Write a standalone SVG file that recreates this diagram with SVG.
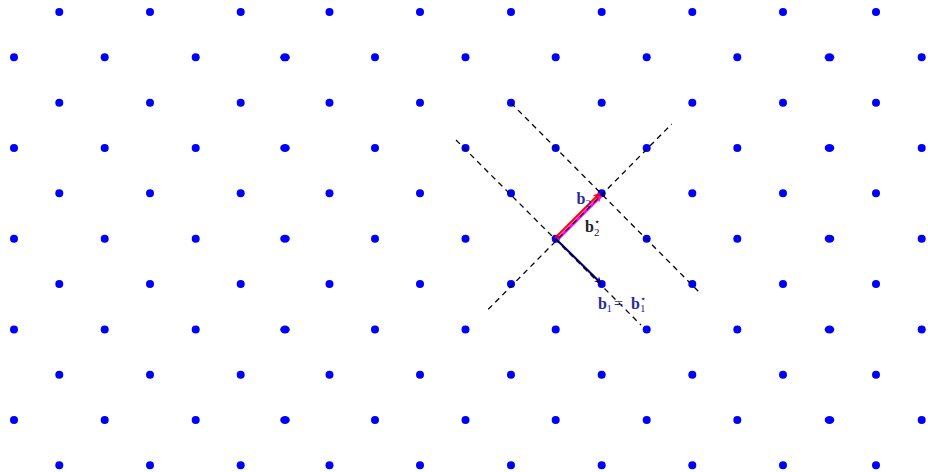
<svg xmlns="http://www.w3.org/2000/svg" width="928" height="472" viewBox="0 0 928 472">
<style>
.d{fill:#0000ff}
.dash{stroke:#000;stroke-width:1.3;stroke-dasharray:5.5 4.5;fill:none}
.lb{font-family:"Liberation Serif","Times New Roman",serif;font-weight:bold;font-size:16px}
.sub{font-family:"Liberation Serif","Times New Roman",serif;font-size:11px}
.st{font-family:"DejaVu Sans",sans-serif;font-size:10px}
.blue{fill:#2b2b9c}
.blk{fill:#222}
</style>
<defs>
<circle id="p" r="4" class="d"/>
<ellipse id="q" rx="4.8" ry="4" class="d"/>
<marker id="ar" viewBox="0 0 10 10" refX="9" refY="5" markerWidth="7" markerHeight="7" markerUnits="userSpaceOnUse" orient="auto"><path d="M0,0 L10,5 L0,10 L3,5 Z" fill="#ff0000"/></marker>
<marker id="am" viewBox="0 0 10 10" refX="9" refY="5" markerWidth="7" markerHeight="7" markerUnits="userSpaceOnUse" orient="auto"><path d="M0,0 L10,5 L0,10 L3,5 Z" fill="#ff00ff"/></marker>
<marker id="an" viewBox="0 0 10 10" refX="9" refY="5" markerWidth="7" markerHeight="7" markerUnits="userSpaceOnUse" orient="auto"><path d="M0,0 L10,5 L0,10 L3,5 Z" fill="#000080"/></marker>
</defs>
<g id="lattice">
<g id="rowA">
<use href="#p" x="59.3" y="12"/><use href="#p" x="150" y="12"/><use href="#p" x="240.7" y="12"/><use href="#p" x="329.5" y="12"/><use href="#p" x="420" y="12"/><use href="#p" x="511" y="12"/><use href="#p" x="601.7" y="12"/><use href="#p" x="692.3" y="12"/><use href="#p" x="783" y="12"/><use href="#p" x="876" y="12"/>
<use href="#p" x="59.3" y="102.7"/><use href="#p" x="150" y="102.7"/><use href="#p" x="240.7" y="102.7"/><use href="#p" x="329.5" y="102.7"/><use href="#p" x="420" y="102.7"/><use href="#p" x="511" y="102.7"/><use href="#p" x="601.7" y="102.7"/><use href="#p" x="692.3" y="102.7"/><use href="#p" x="783" y="102.7"/><use href="#p" x="876" y="102.7"/>
<use href="#p" x="59.3" y="193.3"/><use href="#p" x="150" y="193.3"/><use href="#p" x="240.7" y="193.3"/><use href="#p" x="329.5" y="193.3"/><use href="#p" x="420" y="193.3"/><use href="#p" x="511" y="193.3"/><use href="#p" x="601.7" y="193.3"/><use href="#p" x="692.3" y="193.3"/><use href="#p" x="783" y="193.3"/><use href="#p" x="876" y="193.3"/>
<use href="#p" x="59.3" y="284"/><use href="#p" x="150" y="284"/><use href="#p" x="240.7" y="284"/><use href="#p" x="329.5" y="284"/><use href="#p" x="420" y="284"/><use href="#p" x="511" y="284"/><use href="#p" x="601.7" y="284"/><use href="#p" x="692.3" y="284"/><use href="#p" x="783" y="284"/><use href="#p" x="876" y="284"/>
<use href="#p" x="59.3" y="374.7"/><use href="#p" x="150" y="374.7"/><use href="#p" x="240.7" y="374.7"/><use href="#p" x="329.5" y="374.7"/><use href="#p" x="420" y="374.7"/><use href="#p" x="511" y="374.7"/><use href="#p" x="601.7" y="374.7"/><use href="#p" x="692.3" y="374.7"/><use href="#p" x="783" y="374.7"/><use href="#p" x="876" y="374.7"/>
<use href="#p" x="59.3" y="465.3"/><use href="#p" x="150" y="465.3"/><use href="#p" x="240.7" y="465.3"/><use href="#p" x="329.5" y="465.3"/><use href="#p" x="420" y="465.3"/><use href="#p" x="511" y="465.3"/><use href="#p" x="601.7" y="465.3"/><use href="#p" x="692.3" y="465.3"/><use href="#p" x="783" y="465.3"/><use href="#p" x="876" y="465.3"/>
</g>
<g id="rowB">
<use href="#p" x="14" y="57.3"/><use href="#p" x="104.7" y="57.3"/><use href="#p" x="195.7" y="57.3"/><use href="#q" x="285" y="57.3"/><use href="#p" x="375" y="57.3"/><use href="#p" x="465.5" y="57.3"/><use href="#p" x="555.7" y="57.3"/><use href="#p" x="646.7" y="57.3"/><use href="#p" x="737.3" y="57.3"/><use href="#q" x="829.5" y="57.3"/><use href="#p" x="921.7" y="57.3"/>
<use href="#p" x="14" y="148"/><use href="#p" x="104.7" y="148"/><use href="#p" x="195.7" y="148"/><use href="#q" x="285" y="148"/><use href="#p" x="375" y="148"/><use href="#p" x="465.5" y="148"/><use href="#p" x="555.7" y="148"/><use href="#p" x="646.7" y="148"/><use href="#p" x="737.3" y="148"/><use href="#q" x="829.5" y="148"/><use href="#p" x="921.7" y="148"/>
<use href="#p" x="14" y="238.7"/><use href="#p" x="104.7" y="238.7"/><use href="#p" x="195.7" y="238.7"/><use href="#q" x="285" y="238.7"/><use href="#p" x="375" y="238.7"/><use href="#p" x="465.5" y="238.7"/><use href="#p" x="555.7" y="238.7"/><use href="#p" x="646.7" y="238.7"/><use href="#p" x="737.3" y="238.7"/><use href="#q" x="829.5" y="238.7"/><use href="#p" x="921.7" y="238.7"/>
<use href="#p" x="14" y="329.5"/><use href="#p" x="104.7" y="329.5"/><use href="#p" x="195.7" y="329.5"/><use href="#q" x="285" y="329.5"/><use href="#p" x="375" y="329.5"/><use href="#p" x="465.5" y="329.5"/><use href="#p" x="555.7" y="329.5"/><use href="#p" x="646.7" y="329.5"/><use href="#p" x="737.3" y="329.5"/><use href="#q" x="829.5" y="329.5"/><use href="#p" x="921.7" y="329.5"/>
<use href="#p" x="14" y="420"/><use href="#p" x="104.7" y="420"/><use href="#p" x="195.7" y="420"/><use href="#q" x="285" y="420"/><use href="#p" x="375" y="420"/><use href="#p" x="465.5" y="420"/><use href="#p" x="555.7" y="420"/><use href="#p" x="646.7" y="420"/><use href="#p" x="737.3" y="420"/><use href="#q" x="829.5" y="420"/><use href="#p" x="921.7" y="420"/>
</g>
</g>
<g id="connectors">
<line id="b2star" x1="557" y1="240" x2="601" y2="196" stroke="#ff00ff" stroke-width="3" marker-end="url(#am)"/>
<line id="b2" x1="555" y1="238" x2="599.5" y2="193.5" stroke="#ff0000" stroke-width="2" marker-end="url(#ar)"/>
<line id="b1" x1="555.7" y1="238.7" x2="601" y2="283.3" stroke="#000080" stroke-width="2.2" marker-end="url(#an)"/>
<line class="dash" x1="488.3" y1="309.3" x2="671.7" y2="124"/>
<line class="dash" x1="456" y1="140" x2="641" y2="325"/>
<line class="dash" x1="511" y1="103" x2="700" y2="293"/>
</g>
<g id="labels">
<text class="blue"><tspan class="lb" x="576.5" y="204">b</tspan><tspan class="sub" x="585.5" y="207">2</tspan></text>
<text class="blk"><tspan class="lb" x="585" y="231.5">b</tspan><tspan class="sub" x="594" y="236">2</tspan><tspan class="st" x="594" y="225">⋆</tspan></text>
<text class="blue"><tspan class="lb" x="598" y="308.5">b</tspan><tspan class="sub" x="606.5" y="312">1</tspan><tspan class="sub" style="font-size:16px" x="614" y="308.5">=</tspan><tspan class="lb" x="631" y="308.5">b</tspan><tspan class="sub" x="640" y="312">1</tspan><tspan class="st" x="640" y="301.5">⋆</tspan></text>
</g>
</svg>
